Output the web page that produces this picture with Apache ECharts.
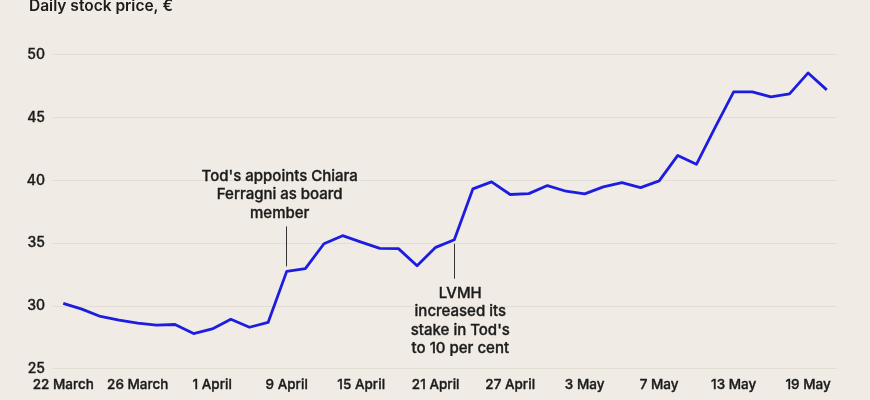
<!DOCTYPE html>
<html>
<head>
<meta charset="utf-8">
<script src="https://cdn.jsdelivr.net/npm/echarts@6/dist/echarts.min.js"></script>
<style>
html,body{margin:0;padding:0;background:#f0ece5;}
#c{width:870px;height:400px;}
</style>
</head>
<body>
<div id="c"></div>
<script>
// Data
const prices = [30.2, 29.74, 29.16, 28.87, 28.63, 28.47, 28.52, 27.8, 28.17, 28.94,
  28.3, 28.68, 32.75, 32.97, 34.95, 35.59, 35.08, 34.58, 34.56, 33.2,
  34.66, 35.27, 39.32, 39.87, 38.87, 38.94, 39.58, 39.13, 38.92, 39.48,
  39.82, 39.42, 39.95, 41.98, 41.27, 44.2, 47.04, 47.04, 46.64, 46.88,
  48.55, 47.2];
const tickIndex = [0, 4, 8, 12, 16, 20, 24, 28, 32, 36, 40];
const tickLabels = ['22 March', '26 March', '1 April', '9 April', '15 April', '21 April',
  '27 April', '3 May', '7 May', '13 May', '19 May'];
const yTicks = [25, 30, 35, 40, 45, 50];
const title = 'Daily stock price, €';
const note1 = ["Tod's appoints Chiara", 'Ferragni as board', 'member'];
const note2 = ['LVMH', 'increased its', "stake in Tod's", 'to 10 per cent'];
const note1Index = 12, note2Index = 21;

const FONT = 'Inter';
const INK = '#1b1b1b';
const chart = echarts.init(document.getElementById('c'), null, {renderer: 'canvas'});
const labelMap = {};
tickIndex.forEach((t, i) => labelMap[t] = tickLabels[i]);
const medium = {textBorderColor: INK, textBorderWidth: 0.35};

chart.setOption({
  backgroundColor: '#f0ece5',
  animation: false,
  title: {
    text: title, left: 29, top: -3, padding: 0,
    textStyle: {fontFamily: FONT, fontSize: 15.5, fontWeight: 600, color: INK, lineHeight: 18}
  },
  grid: {left: 53, right: 33, top: 54.7, bottom: 31.3, containLabel: false},
  xAxis: {
    type: 'value', min: -0.55, max: 41.55,
    axisLine: {show: false}, axisTick: {show: false}, splitLine: {show: false},
    axisLabel: Object.assign({
      customValues: tickIndex,
      formatter: v => labelMap[Math.round(v)] || '',
      fontFamily: FONT, fontSize: 13.5, fontWeight: 500, color: INK, margin: 9
    }, medium)
  },
  yAxis: {
    type: 'value', min: yTicks[0], max: yTicks[yTicks.length - 1], interval: 5,
    axisLine: {show: false}, axisTick: {show: false},
    splitLine: {lineStyle: {color: '#e3ded4', width: 1}},
    axisLabel: Object.assign({fontFamily: FONT, fontSize: 14, fontWeight: 500, color: INK, margin: 8}, medium)
  },
  series: [{
    type: 'line',
    data: prices.map((v, i) => [i, v]),
    showSymbol: false, symbol: 'none',
    lineStyle: {color: '#1d1de0', width: 2.8, join: 'round'},
    itemStyle: {color: '#1d1de0'},
    z: 3,
    markLine: {
      silent: true, symbol: 'none',
      label: {show: false},
      lineStyle: {color: '#333', width: 1, type: 'solid'},
      data: [
        [{coord: [note1Index, 36.33]}, {coord: [note1Index, 33.15]}],
        [{coord: [note2Index, 34.95]}, {coord: [note2Index, 32.17]}]
      ]
    },
    markPoint: {
      silent: true, symbol: 'circle', symbolSize: 0,
      label: Object.assign({
        show: true, position: 'inside',
        fontFamily: FONT, fontSize: 15, fontWeight: 500, color: INK,
        lineHeight: 18.4, align: 'center', verticalAlign: 'middle'
      }, medium),
      data: [
        {coord: [note1Index, 38.84], label: {formatter: note1.join('\n'), offset: [-7, 0]}},
        {coord: [note2Index, 28.8], label: {formatter: note2.join('\n'), offset: [6, 0]}}
      ]
    }
  }]
});
</script>
</body>
</html>
